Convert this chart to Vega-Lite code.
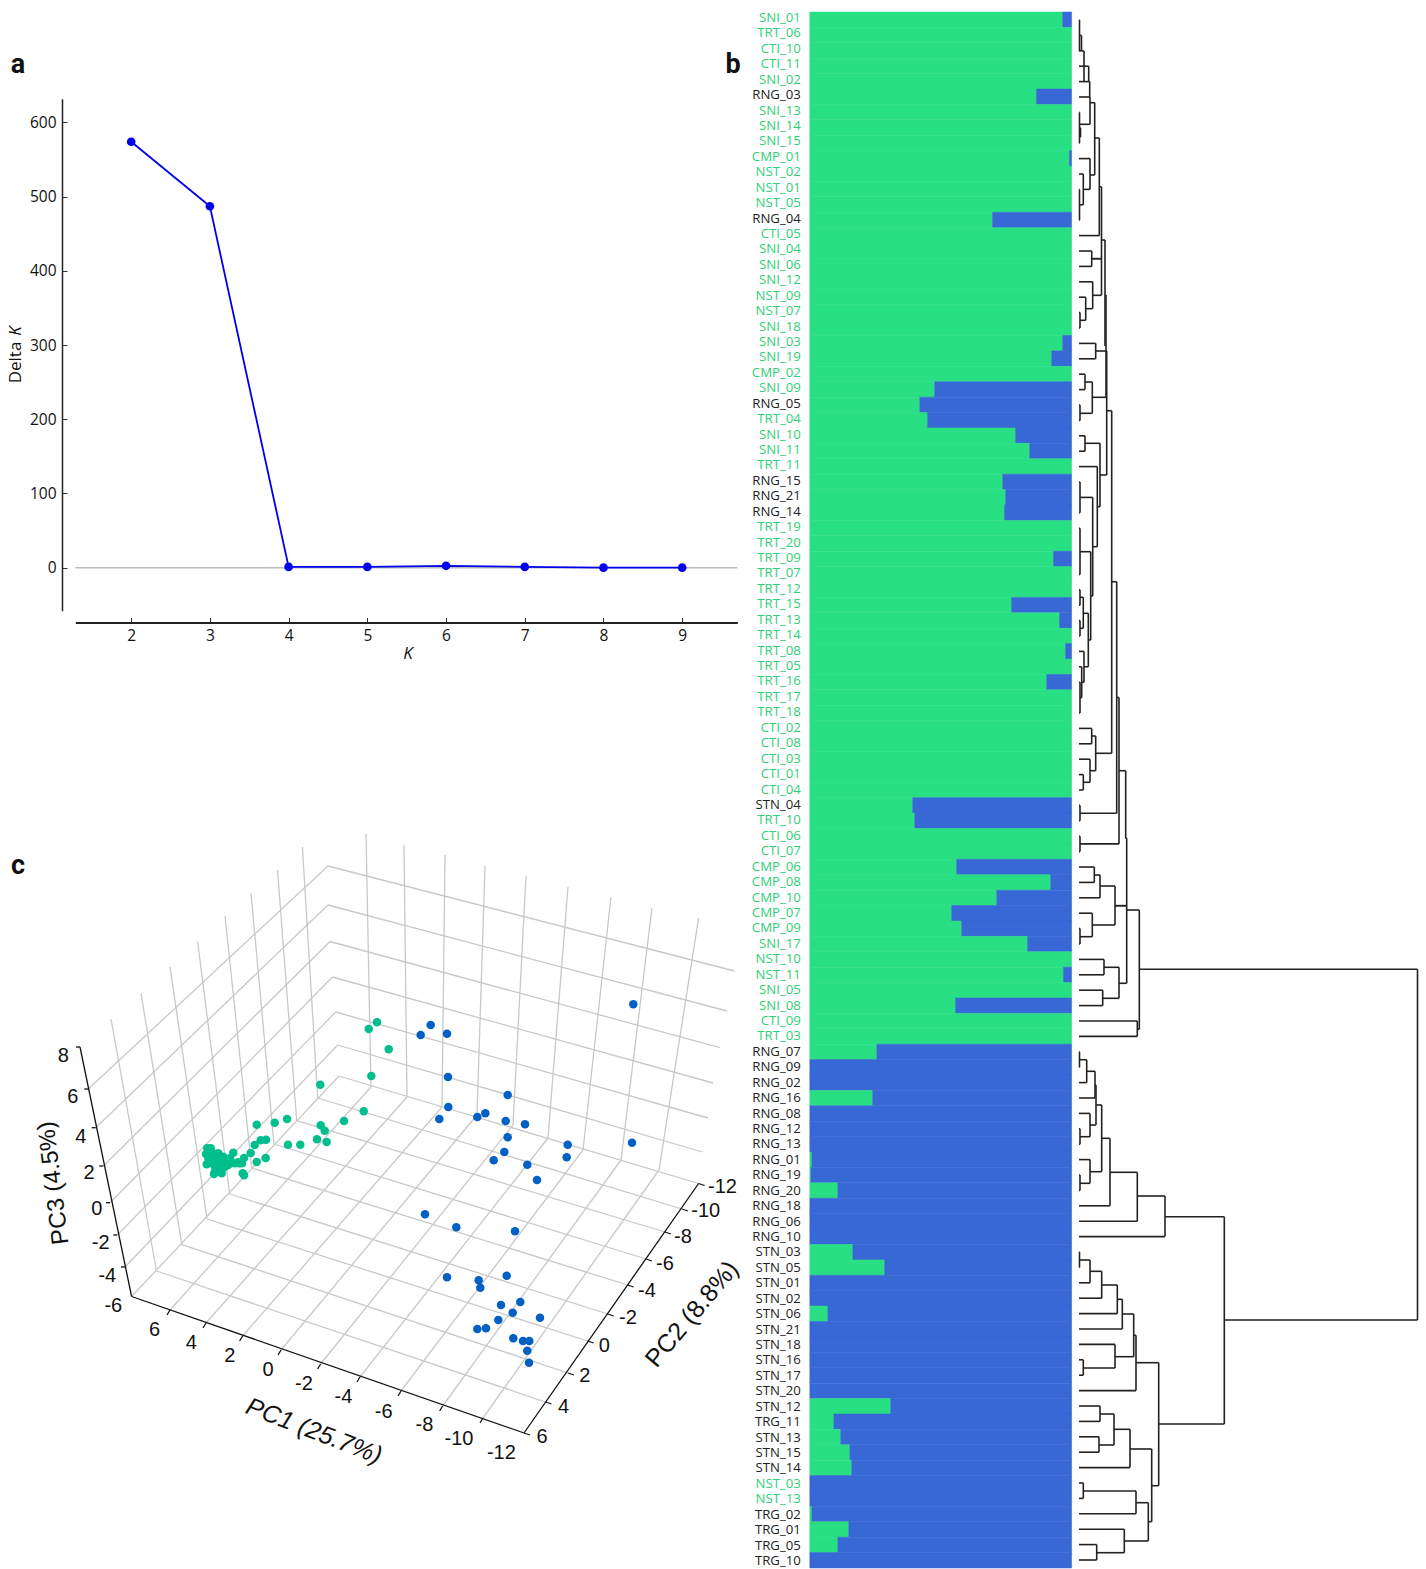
{
"$schema":"https://vega.github.io/schema/vega-lite/v6.json",
"width":1426,"height":1569,"padding":0,
"autosize":{"type":"fit","contains":"padding"},
"background":"white",
"config":{"view":{"stroke":null},"font":"Open Sans"},
"datasets":{
"dk":[{"K":2,"d":574},{"K":3,"d":487},{"K":4,"d":1},{"K":5,"d":1},{"K":6,"d":2.5},{"K":7,"d":1},{"K":8,"d":0},{"K":9,"d":0}],
"q":[
{"s":"SNI_01","c":"G","Q1":0.966,"Q2":0.034},{"s":"TRT_06","c":"G","Q1":1,"Q2":0},{"s":"CTI_10","c":"G","Q1":1,"Q2":0},{"s":"CTI_11","c":"G","Q1":1,"Q2":0},{"s":"SNI_02","c":"G","Q1":1,"Q2":0},{"s":"RNG_03","c":"B","Q1":0.866,"Q2":0.134},{"s":"SNI_13","c":"G","Q1":1,"Q2":0},{"s":"SNI_14","c":"G","Q1":1,"Q2":0},{"s":"SNI_15","c":"G","Q1":1,"Q2":0},{"s":"CMP_01","c":"G","Q1":0.992,"Q2":0.008},{"s":"NST_02","c":"G","Q1":1,"Q2":0},{"s":"NST_01","c":"G","Q1":1,"Q2":0},{"s":"NST_05","c":"G","Q1":1,"Q2":0},{"s":"RNG_04","c":"B","Q1":0.698,"Q2":0.302},{"s":"CTI_05","c":"G","Q1":1,"Q2":0},{"s":"SNI_04","c":"G","Q1":1,"Q2":0},{"s":"SNI_06","c":"G","Q1":1,"Q2":0},{"s":"SNI_12","c":"G","Q1":1,"Q2":0},{"s":"NST_09","c":"G","Q1":1,"Q2":0},{"s":"NST_07","c":"G","Q1":1,"Q2":0},{"s":"SNI_18","c":"G","Q1":1,"Q2":0},{"s":"SNI_03","c":"G","Q1":0.966,"Q2":0.034},{"s":"SNI_19","c":"G","Q1":0.924,"Q2":0.076},{"s":"CMP_02","c":"G","Q1":1,"Q2":0},{"s":"SNI_09","c":"G","Q1":0.477,"Q2":0.523},{"s":"RNG_05","c":"B","Q1":0.42,"Q2":0.58},{"s":"TRT_04","c":"G","Q1":0.45,"Q2":0.55},{"s":"SNI_10","c":"G","Q1":0.786,"Q2":0.214},{"s":"SNI_11","c":"G","Q1":0.84,"Q2":0.16},{"s":"TRT_11","c":"G","Q1":1,"Q2":0},{"s":"RNG_15","c":"B","Q1":0.737,"Q2":0.263},{"s":"RNG_21","c":"B","Q1":0.748,"Q2":0.252},{"s":"RNG_14","c":"B","Q1":0.744,"Q2":0.256},{"s":"TRT_19","c":"G","Q1":1,"Q2":0},{"s":"TRT_20","c":"G","Q1":1,"Q2":0},{"s":"TRT_09","c":"G","Q1":0.931,"Q2":0.069},{"s":"TRT_07","c":"G","Q1":1,"Q2":0},{"s":"TRT_12","c":"G","Q1":1,"Q2":0},{"s":"TRT_15","c":"G","Q1":0.771,"Q2":0.229},{"s":"TRT_13","c":"G","Q1":0.954,"Q2":0.046},{"s":"TRT_14","c":"G","Q1":1,"Q2":0},{"s":"TRT_08","c":"G","Q1":0.977,"Q2":0.023},{"s":"TRT_05","c":"G","Q1":1,"Q2":0},{"s":"TRT_16","c":"G","Q1":0.905,"Q2":0.095},{"s":"TRT_17","c":"G","Q1":1,"Q2":0},{"s":"TRT_18","c":"G","Q1":1,"Q2":0},{"s":"CTI_02","c":"G","Q1":1,"Q2":0},{"s":"CTI_08","c":"G","Q1":1,"Q2":0},{"s":"CTI_03","c":"G","Q1":1,"Q2":0},{"s":"CTI_01","c":"G","Q1":1,"Q2":0},{"s":"CTI_04","c":"G","Q1":1,"Q2":0},{"s":"STN_04","c":"B","Q1":0.393,"Q2":0.607},{"s":"TRT_10","c":"G","Q1":0.401,"Q2":0.599},{"s":"CTI_06","c":"G","Q1":1,"Q2":0},{"s":"CTI_07","c":"G","Q1":1,"Q2":0},{"s":"CMP_06","c":"G","Q1":0.561,"Q2":0.439},{"s":"CMP_08","c":"G","Q1":0.92,"Q2":0.08},{"s":"CMP_10","c":"G","Q1":0.714,"Q2":0.286},{"s":"CMP_07","c":"G","Q1":0.542,"Q2":0.458},{"s":"CMP_09","c":"G","Q1":0.58,"Q2":0.42},{"s":"SNI_17","c":"G","Q1":0.832,"Q2":0.168},{"s":"NST_10","c":"G","Q1":1,"Q2":0},{"s":"NST_11","c":"G","Q1":0.969,"Q2":0.031},{"s":"SNI_05","c":"G","Q1":1,"Q2":0},{"s":"SNI_08","c":"G","Q1":0.557,"Q2":0.443},{"s":"CTI_09","c":"G","Q1":1,"Q2":0},{"s":"TRT_03","c":"G","Q1":1,"Q2":0},
{"s":"RNG_07","c":"B","Q1":0.256,"Q2":0.744},{"s":"RNG_09","c":"B","Q1":0,"Q2":1},{"s":"RNG_02","c":"B","Q1":0,"Q2":1},{"s":"RNG_16","c":"B","Q1":0.24,"Q2":0.76},{"s":"RNG_08","c":"B","Q1":0,"Q2":1},{"s":"RNG_12","c":"B","Q1":0,"Q2":1},{"s":"RNG_13","c":"B","Q1":0,"Q2":1},{"s":"RNG_01","c":"B","Q1":0.008,"Q2":0.992},{"s":"RNG_19","c":"B","Q1":0.004,"Q2":0.996},{"s":"RNG_20","c":"B","Q1":0.107,"Q2":0.893},{"s":"RNG_18","c":"B","Q1":0,"Q2":1},{"s":"RNG_06","c":"B","Q1":0,"Q2":1},{"s":"RNG_10","c":"B","Q1":0,"Q2":1},{"s":"STN_03","c":"B","Q1":0.164,"Q2":0.836},{"s":"STN_05","c":"B","Q1":0.286,"Q2":0.714},{"s":"STN_01","c":"B","Q1":0,"Q2":1},{"s":"STN_02","c":"B","Q1":0,"Q2":1},{"s":"STN_06","c":"B","Q1":0.069,"Q2":0.931},{"s":"STN_21","c":"B","Q1":0,"Q2":1},{"s":"STN_18","c":"B","Q1":0,"Q2":1},{"s":"STN_16","c":"B","Q1":0,"Q2":1},{"s":"STN_17","c":"B","Q1":0,"Q2":1},{"s":"STN_20","c":"B","Q1":0,"Q2":1},{"s":"STN_12","c":"B","Q1":0.309,"Q2":0.691},{"s":"TRG_11","c":"B","Q1":0.092,"Q2":0.908},{"s":"STN_13","c":"B","Q1":0.118,"Q2":0.882},{"s":"STN_15","c":"B","Q1":0.153,"Q2":0.847},{"s":"STN_14","c":"B","Q1":0.16,"Q2":0.84},{"s":"NST_03","c":"G","Q1":0,"Q2":1},{"s":"NST_13","c":"G","Q1":0,"Q2":1},{"s":"TRG_02","c":"B","Q1":0.008,"Q2":0.992},{"s":"TRG_01","c":"B","Q1":0.149,"Q2":0.851},{"s":"TRG_05","c":"B","Q1":0.107,"Q2":0.893},{"s":"TRG_10","c":"B","Q1":0,"Q2":1}
],
"tree":[
{"x":1079.5,"ya":20,"xa":1079,"yb":50.8,"xb":1079},{"x":1081.5,"ya":35.4,"xa":1079.5,"yb":50.8,"xb":1079},{"x":1084,"ya":51,"xa":1081.5,"yb":81.6,"xb":1079},{"x":1088.7,"ya":66.2,"xa":1079,"yb":81.6,"xb":1084},{"x":1089.7,"ya":81.6,"xa":1088.7,"yb":97,"xb":1079},
{"x":1080.5,"ya":127.8,"xa":1079,"yb":137,"xb":1079},{"x":1079.5,"ya":112.4,"xa":1079,"yb":143.2,"xb":1079},{"x":1090,"ya":97,"xa":1089.7,"yb":124.3,"xb":1080},
{"x":1079.5,"ya":189.4,"xa":1079,"yb":220.2,"xb":1079},{"x":1083.3,"ya":174,"xa":1079,"yb":204.8,"xb":1079.5},{"x":1090,"ya":158.6,"xa":1079,"yb":189.4,"xb":1083.3},{"x":1094.7,"ya":102.7,"xa":1090,"yb":175,"xb":1090},{"x":1099.3,"ya":138,"xa":1094.7,"yb":235.6,"xb":1079},
{"x":1091.7,"ya":251,"xa":1079,"yb":266.4,"xb":1079},{"x":1080,"ya":312.6,"xa":1079,"yb":328,"xb":1079},{"x":1085.7,"ya":297.2,"xa":1079,"yb":320.3,"xb":1080},{"x":1092.7,"ya":281.8,"xa":1079,"yb":308.7,"xb":1085.7},
{"x":1101.5,"ya":186.7,"xa":1099.3,"yb":295.3,"xb":1092.7},{"x":1101.5,"ya":258.7,"xa":1091.7,"yb":258.7,"xb":1091.7},{"x":1105,"ya":240,"xa":1101.5,"yb":346,"xb":1105},
{"x":1095.7,"ya":343.4,"xa":1079,"yb":358.8,"xb":1079},{"x":1085,"ya":374.2,"xa":1079,"yb":389.6,"xb":1079},{"x":1080,"ya":405,"xa":1079,"yb":420.4,"xb":1079},{"x":1092.3,"ya":382,"xa":1085,"yb":413.3,"xb":1080},
{"x":1106,"ya":295,"xa":1105,"yb":397.3,"xb":1092.3},{"x":1106.7,"ya":351,"xa":1095.7,"yb":475,"xb":1100},
{"x":1085,"ya":435.8,"xa":1079,"yb":451.2,"xb":1079},{"x":1080,"ya":482,"xa":1079,"yb":512.8,"xb":1079},{"x":1092.7,"ya":497.4,"xa":1080,"yb":596,"xb":1090.7},{"x":1080,"ya":528.2,"xa":1079,"yb":574.4,"xb":1079},{"x":1090.7,"ya":551.7,"xa":1080,"yb":640,"xb":1088.3},{"x":1080,"ya":589.8,"xa":1079,"yb":605.2,"xb":1079},{"x":1080,"ya":620.6,"xa":1079,"yb":636,"xb":1079},{"x":1083.3,"ya":597.3,"xa":1080,"yb":628.3,"xb":1080},{"x":1080,"ya":682.2,"xa":1079,"yb":713,"xb":1079},{"x":1081.7,"ya":666.8,"xa":1079,"yb":697.6,"xb":1080},{"x":1084,"ya":651.4,"xa":1079,"yb":682.2,"xb":1081.7},{"x":1088.3,"ya":613.3,"xa":1083.3,"yb":666.8,"xb":1084},{"x":1097.3,"ya":466.6,"xa":1079,"yb":546.7,"xb":1092.7},{"x":1100,"ya":443.3,"xa":1085,"yb":506.7,"xb":1097.3},
{"x":1091.7,"ya":728.4,"xa":1079,"yb":743.8,"xb":1079},{"x":1083.3,"ya":774.6,"xa":1079,"yb":790,"xb":1079},{"x":1090,"ya":759.2,"xa":1079,"yb":782.3,"xb":1083.3},{"x":1095.7,"ya":736,"xa":1091.7,"yb":770.7,"xb":1090},{"x":1111.7,"ya":410.7,"xa":1107,"yb":753.3,"xb":1095.7},
{"x":1080,"ya":805.4,"xa":1079,"yb":820.8,"xb":1079},{"x":1116.7,"ya":581.7,"xa":1111.7,"yb":813.3,"xb":1080},{"x":1080,"ya":836.2,"xa":1079,"yb":851.6,"xb":1079},{"x":1119,"ya":697.5,"xa":1116.7,"yb":843.9,"xb":1080},{"x":1125.7,"ya":770.7,"xa":1119,"yb":838.3,"xb":1126.7},
{"x":1126.7,"ya":838.3,"xa":1125.7,"yb":983.3,"xb":1119},{"x":1126.7,"ya":905.7,"xa":1115,"yb":905.7,"xb":1115},
{"x":1094.3,"ya":867,"xa":1079,"yb":882.4,"xb":1079},{"x":1100,"ya":875,"xa":1094.3,"yb":897.8,"xb":1079},{"x":1080,"ya":928.6,"xa":1079,"yb":944,"xb":1079},{"x":1092.3,"ya":913.2,"xa":1079,"yb":936.7,"xb":1080},{"x":1115,"ya":886,"xa":1100,"yb":925,"xb":1092.3},{"x":1104,"ya":959.4,"xa":1079,"yb":974.8,"xb":1079},{"x":1102.7,"ya":990.2,"xa":1079,"yb":1005.6,"xb":1079},{"x":1119,"ya":967.3,"xa":1104,"yb":998.3,"xb":1102.7},{"x":1137.3,"ya":1021,"xa":1079,"yb":1036.4,"xb":1079},{"x":1139.3,"ya":910,"xa":1126.7,"yb":1029.3,"xb":1137.3},
{"x":1417.5,"ya":969.3,"xa":1139.3,"yb":1320,"xb":1224.3},
{"x":1079.5,"ya":1051.8,"xa":1079,"yb":1067.2,"xb":1079},{"x":1086.7,"ya":1059.7,"xa":1079.5,"yb":1082.6,"xb":1079},{"x":1095,"ya":1071.3,"xa":1086.7,"yb":1098,"xb":1079},{"x":1080,"ya":1128.8,"xa":1079,"yb":1144.2,"xb":1079},{"x":1090,"ya":1113.4,"xa":1079,"yb":1136.7,"xb":1080},{"x":1096,"ya":1085,"xa":1095,"yb":1125,"xb":1090},{"x":1080,"ya":1175,"xa":1079,"yb":1190.4,"xb":1079},{"x":1090,"ya":1159.6,"xa":1079,"yb":1183.3,"xb":1080},{"x":1101.7,"ya":1105,"xa":1096,"yb":1171.7,"xb":1090},{"x":1110,"ya":1138.3,"xa":1101.7,"yb":1205.8,"xb":1079},{"x":1137.3,"ya":1172.3,"xa":1110,"yb":1221.2,"xb":1079},{"x":1165,"ya":1196,"xa":1137.3,"yb":1236.6,"xb":1079},{"x":1224.3,"ya":1216.7,"xa":1165,"yb":1424,"xb":1158.7},
{"x":1079.5,"ya":1252,"xa":1079,"yb":1267.4,"xb":1079},{"x":1090,"ya":1260,"xa":1079.5,"yb":1282.8,"xb":1079},{"x":1101.7,"ya":1271.3,"xa":1090,"yb":1298.2,"xb":1079},{"x":1117.3,"ya":1285,"xa":1101.7,"yb":1313.6,"xb":1079},{"x":1122.3,"ya":1299.3,"xa":1117.3,"yb":1329,"xb":1079},{"x":1083.3,"ya":1359.8,"xa":1079,"yb":1375.2,"xb":1079},{"x":1115,"ya":1344.4,"xa":1079,"yb":1368,"xb":1083.3},{"x":1133.7,"ya":1314,"xa":1122.3,"yb":1356.7,"xb":1115},{"x":1136,"ya":1335.3,"xa":1133.7,"yb":1390.6,"xb":1079},{"x":1158.7,"ya":1362.7,"xa":1136,"yb":1485.7,"xb":1151.7},
{"x":1100,"ya":1406,"xa":1079,"yb":1421.4,"xb":1079},{"x":1099,"ya":1436.8,"xa":1079,"yb":1452.2,"xb":1079},{"x":1114,"ya":1414,"xa":1100,"yb":1445,"xb":1099},{"x":1130,"ya":1429.3,"xa":1114,"yb":1467.6,"xb":1079},{"x":1083.3,"ya":1483,"xa":1079,"yb":1498.4,"xb":1079},{"x":1136,"ya":1491,"xa":1083.3,"yb":1513.8,"xb":1079},{"x":1096.7,"ya":1544.6,"xa":1079,"yb":1560,"xb":1079},{"x":1124.3,"ya":1529.2,"xa":1079,"yb":1552.7,"xb":1096.7},{"x":1148.3,"ya":1502.7,"xa":1136,"yb":1541,"xb":1124.3},{"x":1151.7,"ya":1449,"xa":1130,"yb":1521.7,"xb":1148.3}
],
"grid":[
{"x":88.3,"y":1089,"x2":328,"y2":866},{"x":95.7,"y":1127.7,"x2":328,"y2":905},{"x":103.3,"y":1166,"x2":330,"y2":941.5},{"x":110,"y":1202.7,"x2":332.5,"y2":977},{"x":117.3,"y":1235,"x2":335.7,"y2":1012},{"x":125,"y":1267,"x2":337.7,"y2":1045},{"x":131.6,"y":1296.5,"x2":339,"y2":1076},
{"x":328,"y":866,"x2":734.5,"y2":971},{"x":328,"y":905,"x2":727,"y2":1011},{"x":330,"y":941.5,"x2":720,"y2":1047.6},{"x":332.5,"y":977,"x2":713,"y2":1083},{"x":335.7,"y":1012,"x2":708,"y2":1118},{"x":337.7,"y":1045,"x2":702.4,"y2":1152},{"x":339,"y":1076,"x2":698.6,"y2":1183.5},
{"x":156.5,"y":1271,"x2":111,"y2":1019},{"x":181.8,"y":1244.6,"x2":141,"y2":993},{"x":207,"y":1219,"x2":170,"y2":967},{"x":229.7,"y":1194,"x2":197.6,"y2":941.5},{"x":251.7,"y":1168,"x2":225,"y2":916},{"x":274,"y":1144,"x2":251,"y2":893},{"x":296.7,"y":1120.7,"x2":277.5,"y2":870},{"x":317.7,"y":1098,"x2":302.4,"y2":847},
{"x":371,"y":1087,"x2":366,"y2":834},{"x":407,"y":1097,"x2":404,"y2":845},{"x":442,"y":1107,"x2":445,"y2":855},{"x":477,"y":1115,"x2":485,"y2":866},{"x":513,"y":1125,"x2":526,"y2":876},{"x":548,"y":1138,"x2":568,"y2":887},{"x":583,"y":1150,"x2":611,"y2":897},{"x":621,"y":1160,"x2":652,"y2":908},{"x":659,"y":1170,"x2":698.6,"y2":918},
{"x":371,"y":1087,"x2":170,"y2":1310},{"x":407,"y":1097,"x2":206,"y2":1323},{"x":442,"y":1107,"x2":242.6,"y2":1336},{"x":477,"y":1115,"x2":281,"y2":1350},{"x":513,"y":1125,"x2":320.6,"y2":1364},{"x":548,"y":1138,"x2":360,"y2":1377},{"x":583,"y":1150,"x2":401,"y2":1391},{"x":621,"y":1160,"x2":442.6,"y2":1406},{"x":659,"y":1170,"x2":483,"y2":1418},
{"x":156.5,"y":1271,"x2":545.5,"y2":1402},{"x":181.8,"y":1244.6,"x2":568,"y2":1373},{"x":207,"y":1219,"x2":587.6,"y2":1341},{"x":229.7,"y":1194,"x2":607.7,"y2":1314},{"x":251.7,"y":1168,"x2":627.7,"y2":1285},{"x":274,"y":1144,"x2":646,"y2":1259},{"x":296.7,"y":1120.7,"x2":665,"y2":1232},{"x":317.7,"y":1098,"x2":682,"y2":1209}
],
"box":[
{"x":131.6,"y":1296.5,"x2":80,"y2":1047},{"x":131.6,"y":1296.5,"x2":524,"y2":1433},{"x":524,"y":1433,"x2":698.6,"y2":1183.5},
{"x":170,"y":1310,"x2":167,"y2":1315},{"x":206,"y":1323,"x2":203,"y2":1328},{"x":242.6,"y":1336,"x2":239.6,"y2":1341},{"x":281,"y":1350,"x2":278,"y2":1355},{"x":320.6,"y":1364,"x2":317.6,"y2":1369},{"x":360,"y":1377,"x2":357,"y2":1382},{"x":401,"y":1391,"x2":398,"y2":1396},{"x":442.6,"y":1406,"x2":439.6,"y2":1411},{"x":483,"y":1418,"x2":480,"y2":1423},
{"x":524,"y":1433,"x2":530,"y2":1435},{"x":545.5,"y":1402,"x2":551.5,"y2":1404},{"x":568,"y":1373,"x2":574,"y2":1375},{"x":587.6,"y":1341,"x2":593.6,"y2":1343},{"x":607.7,"y":1314,"x2":613.7,"y2":1316},{"x":627.7,"y":1285,"x2":633.7,"y2":1287},{"x":646,"y":1259,"x2":652,"y2":1261},{"x":665,"y":1232,"x2":671,"y2":1234},{"x":682,"y":1209,"x2":688,"y2":1211},{"x":698.6,"y":1183.5,"x2":704.6,"y2":1185.5},
{"x":80,"y":1047,"x2":76,"y2":1047},{"x":88.3,"y":1089,"x2":84.3,"y2":1089},{"x":95.7,"y":1127.7,"x2":91.7,"y2":1127.7},{"x":103.3,"y":1166,"x2":99.3,"y2":1166},{"x":110,"y":1202.7,"x2":106,"y2":1202.7},{"x":117.3,"y":1235,"x2":113.3,"y2":1235},{"x":125,"y":1267,"x2":121,"y2":1267}
],
"ticks":[
{"t":"6","x":154.5,"y":1330},{"t":"4","x":191.4,"y":1342.6},{"t":"2","x":229.7,"y":1356},{"t":"0","x":268,"y":1370},{"t":"-2","x":304,"y":1383.5},{"t":"-4","x":343.5,"y":1397},{"t":"-6","x":383.7,"y":1411.6},{"t":"-8","x":424.4,"y":1424.7},{"t":"-10","x":459,"y":1439},{"t":"-12","x":501.4,"y":1453},
{"t":"6","x":542,"y":1437},{"t":"4","x":563.6,"y":1406.6},{"t":"2","x":584.7,"y":1376},{"t":"0","x":604.3,"y":1345.6},{"t":"-2","x":628,"y":1318},{"t":"-4","x":647,"y":1291},{"t":"-6","x":665,"y":1263.5},{"t":"-8","x":683,"y":1237},{"t":"-10","x":705.7,"y":1211},{"t":"-12","x":722.5,"y":1187},
{"t":"8","x":63.3,"y":1056},{"t":"6","x":72.7,"y":1097},{"t":"4","x":80.7,"y":1136.7},{"t":"2","x":89,"y":1173.3},{"t":"0","x":96.7,"y":1209},{"t":"-2","x":100.7,"y":1242.7},{"t":"-4","x":107.3,"y":1275.7},{"t":"-6","x":113.3,"y":1305.7}
],
"pts":[
{"g":"G","x":377,"y":1022.3},{"g":"G","x":368.7,"y":1029},{"g":"G","x":388.7,"y":1049.3},{"g":"G","x":371.3,"y":1076},{"g":"G","x":320.3,"y":1084.7},{"g":"G","x":363.7,"y":1111.3},{"g":"G","x":344,"y":1121},{"g":"G","x":320.7,"y":1125.3},{"g":"G","x":324.7,"y":1130.7},{"g":"G","x":287,"y":1119},{"g":"G","x":274.7,"y":1122.7},{"g":"G","x":256.7,"y":1124.7},{"g":"G","x":266,"y":1139.7},{"g":"G","x":260.7,"y":1140.3},{"g":"G","x":254.7,"y":1145},{"g":"G","x":288,"y":1144.7},{"g":"G","x":300.3,"y":1144.7},{"g":"G","x":317,"y":1139.3},{"g":"G","x":326.7,"y":1142},{"g":"G","x":265.7,"y":1158},{"g":"G","x":256.7,"y":1162},{"g":"G","x":250.7,"y":1153},{"g":"G","x":244,"y":1158},{"g":"G","x":242,"y":1163.3},{"g":"G","x":233.3,"y":1152.7},{"g":"G","x":242.7,"y":1173.3},{"g":"G","x":244,"y":1175.3},{"g":"G","x":239,"y":1163.3},
{"g":"G","x":207.3,"y":1148.3},{"g":"G","x":210.7,"y":1148.3},{"g":"G","x":206,"y":1154},{"g":"G","x":210,"y":1155},{"g":"G","x":213.3,"y":1153.3},{"g":"G","x":211.7,"y":1158.3},{"g":"G","x":216.7,"y":1156.7},{"g":"G","x":220,"y":1158.3},{"g":"G","x":206.7,"y":1164.3},{"g":"G","x":211.7,"y":1163.3},{"g":"G","x":216.7,"y":1163.3},{"g":"G","x":221.7,"y":1161.7},{"g":"G","x":226.7,"y":1160},{"g":"G","x":230,"y":1158.3},{"g":"G","x":225,"y":1166.7},{"g":"G","x":220,"y":1168.3},{"g":"G","x":215,"y":1171.7},{"g":"G","x":221.7,"y":1173.3},{"g":"G","x":214,"y":1174},{"g":"G","x":228.3,"y":1165},{"g":"G","x":235,"y":1163.3},{"g":"G","x":238.3,"y":1162.3},{"g":"G","x":210,"y":1160},{"g":"G","x":218.3,"y":1153.3},{"g":"G","x":215,"y":1166.7},{"g":"G","x":223.3,"y":1156.7},{"g":"G","x":208.3,"y":1158.3},
{"g":"B","x":633.3,"y":1004.3},{"g":"B","x":430.7,"y":1025},{"g":"B","x":420.7,"y":1035},{"g":"B","x":447,"y":1033.7},{"g":"B","x":448,"y":1077},{"g":"B","x":507.7,"y":1095},{"g":"B","x":448.3,"y":1107},{"g":"B","x":439.3,"y":1119},{"g":"B","x":477.3,"y":1117},{"g":"B","x":485.3,"y":1113.3},{"g":"B","x":505.7,"y":1121},{"g":"B","x":525,"y":1124.3},{"g":"B","x":507.7,"y":1137.3},{"g":"B","x":504.3,"y":1152},{"g":"B","x":493.7,"y":1160.3},{"g":"B","x":527.3,"y":1164.7},{"g":"B","x":537,"y":1180},{"g":"B","x":567.7,"y":1144.7},{"g":"B","x":566.7,"y":1157.3},{"g":"B","x":632,"y":1142.7},{"g":"B","x":425,"y":1214.3},{"g":"B","x":456.3,"y":1227.3},{"g":"B","x":515,"y":1231.3},{"g":"B","x":447,"y":1277.3},{"g":"B","x":478.7,"y":1280.3},{"g":"B","x":480.3,"y":1287.7},{"g":"B","x":506.7,"y":1275.7},{"g":"B","x":520.3,"y":1302},{"g":"B","x":501,"y":1305},{"g":"B","x":512.7,"y":1312.7},{"g":"B","x":540,"y":1317.7},{"g":"B","x":498.3,"y":1320},{"g":"B","x":477.3,"y":1329},{"g":"B","x":486,"y":1328.3},{"g":"B","x":513.3,"y":1338.3},{"g":"B","x":523,"y":1341},{"g":"B","x":529.3,"y":1341},{"g":"B","x":527.3,"y":1350.7},{"g":"B","x":529,"y":1362.7}
]
},
"layer":[
{"layer":[
 {"data":{"values":[{"a":1.29,"b":9.7,"z":0}]},"mark":{"type":"rule","color":"#bdbdbd","strokeWidth":1.5},"encoding":{
  "x":{"field":"a","type":"quantitative","scale":{"domain":[1.29,9.7],"range":[75.3,737.3],"nice":false,"zero":false},"axis":{"values":[2,3,4,5,6,7,8,9],"title":null,"offset":-946.5,"grid":false,"domainColor":"#222","domainWidth":1.8,"tickColor":"#333","tickSize":-5,"labelPadding":11,"labelFont":"Open Sans","labelFontSize":15.5,"labelColor":"#111","format":"d"}},
  "x2":{"field":"b"},
  "y":{"field":"z","type":"quantitative","scale":{"domain":[-58,632],"range":[610.7,98.7],"nice":false,"zero":false},"axis":{"values":[0,100,200,300,400,500,600],"title":null,"offset":-62,"grid":false,"domainColor":"#222","domainWidth":1.5,"tickColor":"#333","tickSize":-5,"labelPadding":11,"labelFont":"Open Sans","labelFontSize":15.5,"labelColor":"#111","format":"d"}}}},
 {"data":{"name":"dk"},"mark":{"type":"line","color":"#0000ee","strokeWidth":1.8},"encoding":{"x":{"field":"K","type":"quantitative"},"y":{"field":"d","type":"quantitative"}}},
 {"data":{"name":"dk"},"mark":{"type":"circle","color":"#0000ee","opacity":1,"size":75},"encoding":{"x":{"field":"K","type":"quantitative"},"y":{"field":"d","type":"quantitative"}}}
]},
{"layer":[
 {"data":{"name":"q"},"transform":[{"fold":["Q1","Q2"],"as":["cl","val"]},{"filter":"datum.val > 0"}],"mark":{"type":"bar","strokeWidth":0.5},"encoding":{
  "x":{"field":"val","type":"quantitative","stack":"zero","scale":{"domain":[0,1],"range":[809.8,1071.6],"nice":false,"zero":false},"axis":null},
  "y":{"field":"s","type":"nominal","sort":null,"scale":{"type":"band","domain":{"data":"q","field":"s"},"range":[12,1568],"paddingInner":0,"paddingOuter":0},"axis":null},
  "color":{"field":"cl","type":"nominal","scale":{"domain":["Q1","Q2"],"range":["#29df83","#3867d6"]},"legend":null},
  "stroke":{"field":"cl","type":"nominal","scale":{"domain":["Q1","Q2"],"range":["#29df83","#3867d6"]},"legend":null},
  "order":{"field":"cl"}}},
 {"data":{"name":"q"},"mark":{"type":"text","align":"right","baseline":"middle","font":"Open Sans","fontSize":13.2},"encoding":{
  "x":{"datum":0,"type":"quantitative"},
  "y":{"field":"s","type":"nominal","sort":null,"scale":{"type":"band","range":[10.3,1568.7],"paddingInner":0,"paddingOuter":0},"axis":null},
  "text":{"field":"s"},
  "xOffset":{"datum":-9,"type":"quantitative","scale":null},
  "color":{"field":"c","type":"nominal","scale":{"domain":["G","B"],"range":["#2fcf78","#222222"]},"legend":null}}}
],"resolve":{"scale":{"color":"independent","y":"independent"}}},
{"layer":[
 {"data":{"name":"grid"},"mark":{"type":"rule","color":"#c8c8c8","strokeWidth":1.3},"encoding":{
  "x":{"field":"x","type":"quantitative","scale":{"domain":[0,1426],"range":[0,1426],"nice":false,"zero":false},"axis":null},
  "y":{"field":"y","type":"quantitative","scale":{"domain":[0,1569],"range":[0,1569],"nice":false,"zero":false},"axis":null},
  "x2":{"field":"x2"},"y2":{"field":"y2"}}},
 {"data":{"name":"box"},"mark":{"type":"rule","color":"#111","strokeWidth":1.3},"encoding":{"x":{"field":"x","type":"quantitative"},"y":{"field":"y","type":"quantitative"},"x2":{"field":"x2"},"y2":{"field":"y2"}}},
 {"data":{"name":"pts"},"mark":{"type":"circle","opacity":1,"size":72},"encoding":{"x":{"field":"x","type":"quantitative"},"y":{"field":"y","type":"quantitative"},
  "color":{"field":"g","type":"nominal","scale":{"domain":["G","B"],"range":["#00bf8c","#0060c4"]},"legend":null}}},
 {"data":{"name":"ticks"},"mark":{"type":"text","font":"Liberation Sans","fontSize":20,"color":"#111","align":"center","baseline":"middle"},"encoding":{"x":{"field":"x","type":"quantitative"},"y":{"field":"y","type":"quantitative"},"text":{"field":"t"}}},
 {"data":{"values":[{"t":"PC1 (25.7%)","x":314,"y":1431}]},"mark":{"type":"text","font":"Liberation Sans","fontStyle":"italic","fontSize":25,"color":"#111","angle":21,"align":"center","baseline":"middle"},"encoding":{"x":{"field":"x","type":"quantitative"},"y":{"field":"y","type":"quantitative"},"text":{"field":"t"}}},
 {"data":{"values":[{"t":"PC2 (8.8%)","x":692,"y":1314}]},"mark":{"type":"text","font":"Liberation Sans","fontSize":25,"color":"#111","angle":-50,"align":"center","baseline":"middle"},"encoding":{"x":{"field":"x","type":"quantitative"},"y":{"field":"y","type":"quantitative"},"text":{"field":"t"}}},
 {"data":{"values":[{"t":"PC3 (4.5%)","x":54,"y":1183}]},"mark":{"type":"text","font":"Liberation Sans","fontSize":24,"color":"#111","angle":-97,"align":"center","baseline":"middle"},"encoding":{"x":{"field":"x","type":"quantitative"},"y":{"field":"y","type":"quantitative"},"text":{"field":"t"}}},
 {"data":{"name":"tree"},"mark":{"type":"rule","color":"#222","strokeWidth":1.6},"encoding":{"x":{"field":"x","type":"quantitative"},"y":{"field":"ya","type":"quantitative"},"y2":{"field":"yb"}}},
 {"data":{"name":"tree"},"mark":{"type":"rule","color":"#222","strokeWidth":1.6},"encoding":{"x":{"field":"xa","type":"quantitative"},"x2":{"field":"x"},"y":{"field":"ya","type":"quantitative"}}},
 {"data":{"name":"tree"},"mark":{"type":"rule","color":"#222","strokeWidth":1.6},"encoding":{"x":{"field":"xb","type":"quantitative"},"x2":{"field":"x"},"y":{"field":"yb","type":"quantitative"}}},
 {"data":{"values":[{"t":"a","x":18,"y":65},{"t":"b","x":733,"y":65},{"t":"c","x":18,"y":866}]},"mark":{"type":"text","font":"Roboto","fontWeight":"bold","fontSize":27,"color":"#111","align":"center","baseline":"middle"},"encoding":{"x":{"field":"x","type":"quantitative"},"y":{"field":"y","type":"quantitative"},"text":{"field":"t"}}},
 {"data":{"values":[{"t":"K","x":408,"y":654}]},"mark":{"type":"text","font":"Open Sans","fontStyle":"italic","fontSize":17,"color":"#111","align":"center","baseline":"middle"},"encoding":{"x":{"field":"x","type":"quantitative"},"y":{"field":"y","type":"quantitative"},"text":{"field":"t"}}},
 {"data":{"values":[{"t":"K","x":16,"y":331}]},"mark":{"type":"text","font":"Open Sans","fontStyle":"italic","fontSize":17,"color":"#111","angle":-90,"align":"center","baseline":"middle"},"encoding":{"x":{"field":"x","type":"quantitative"},"y":{"field":"y","type":"quantitative"},"text":{"field":"t"}}},
 {"data":{"values":[{"t":"Delta","x":16,"y":362.5}]},"mark":{"type":"text","font":"Open Sans","fontSize":17,"color":"#111","angle":-90,"align":"center","baseline":"middle"},"encoding":{"x":{"field":"x","type":"quantitative"},"y":{"field":"y","type":"quantitative"},"text":{"field":"t"}}}
],"resolve":{"scale":{"color":"independent"}}}
],
"resolve":{"scale":{"x":"independent","y":"independent","color":"independent"}}
}
